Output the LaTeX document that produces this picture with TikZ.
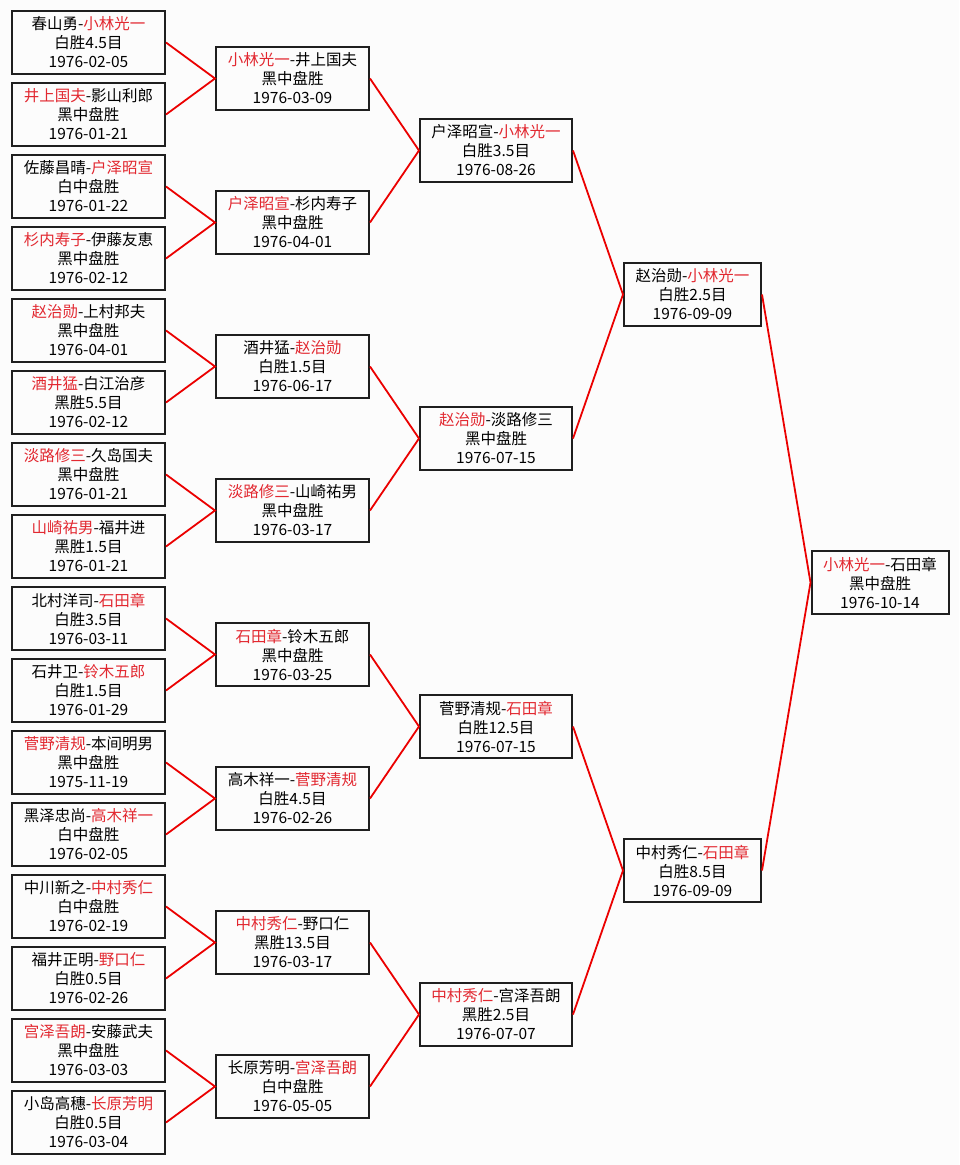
\documentclass[tikz,border=0pt]{standalone}
\usepackage{fontspec}
\setmainfont{Noto Sans CJK SC}
\definecolor{wred}{RGB}{226,40,48}
\definecolor{lred}{RGB}{235,0,0}
\definecolor{bgc}{RGB}{252,252,252}
\newcommand{\W}[1]{\textcolor{wred}{#1}}
\tikzset{
  game/.style={draw=black!88, line width=2pt, fill=bgc, minimum height=63pt, inner sep=0pt,
    align=center, font=\fontsize{15.5}{19}\selectfont},
  c1/.style={game, minimum width=153pt},
  c2/.style={game, minimum width=153pt},
  c3/.style={game, minimum width=152pt},
  c4/.style={game, minimum width=137pt},
  link/.style={draw=lred, line width=1.8pt}
}
\begin{document}
\begin{tikzpicture}[x=1pt,y=-1pt]
\fill[bgc] (0,0) rectangle (959,1165);
\useasboundingbox (0,0) rectangle (959,1165);
% column 1
\node[c1] (a1)  at (88.5,  42.5) {春山勇-\W{小林光一}\\白胜4.5目\\1976-02-05};
\node[c1] (a2)  at (88.5, 114.5) {\W{井上国夫}-影山利郎\\黑中盘胜\\1976-01-21};
\node[c1] (a3)  at (88.5, 186.5) {佐藤昌晴-\W{户泽昭宣}\\白中盘胜\\1976-01-22};
\node[c1] (a4)  at (88.5, 258.5) {\W{杉内寿子}-伊藤友恵\\黑中盘胜\\1976-02-12};
\node[c1] (a5)  at (88.5, 330.5) {\W{赵治勋}-上村邦夫\\黑中盘胜\\1976-04-01};
\node[c1] (a6)  at (88.5, 402.5) {\W{酒井猛}-白江治彦\\黑胜5.5目\\1976-02-12};
\node[c1] (a7)  at (88.5, 474.5) {\W{淡路修三}-久岛国夫\\黑中盘胜\\1976-01-21};
\node[c1] (a8)  at (88.5, 546.5) {\W{山崎祐男}-福井进\\黑胜1.5目\\1976-01-21};
\node[c1] (a9)  at (88.5, 618.5) {北村洋司-\W{石田章}\\白胜3.5目\\1976-03-11};
\node[c1] (a10) at (88.5, 690.5) {石井卫-\W{铃木五郎}\\白胜1.5目\\1976-01-29};
\node[c1] (a11) at (88.5, 762.5) {\W{菅野清规}-本间明男\\黑中盘胜\\1975-11-19};
\node[c1] (a12) at (88.5, 834.5) {黑泽忠尚-\W{高木祥一}\\白中盘胜\\1976-02-05};
\node[c1] (a13) at (88.5, 906.5) {中川新之-\W{中村秀仁}\\白中盘胜\\1976-02-19};
\node[c1] (a14) at (88.5, 978.5) {福井正明-\W{野口仁}\\白胜0.5目\\1976-02-26};
\node[c1] (a15) at (88.5,1050.5) {\W{宫泽吾朗}-安藤武夫\\黑中盘胜\\1976-03-03};
\node[c1] (a16) at (88.5,1122.5) {小岛高穗-\W{长原芳明}\\白胜0.5目\\1976-03-04};
% column 2
\node[c2] (b1) at (292.5,  78.5) {\W{小林光一}-井上国夫\\黑中盘胜\\1976-03-09};
\node[c2] (b2) at (292.5, 222.5) {\W{户泽昭宣}-杉内寿子\\黑中盘胜\\1976-04-01};
\node[c2] (b3) at (292.5, 366.5) {酒井猛-\W{赵治勋}\\白胜1.5目\\1976-06-17};
\node[c2] (b4) at (292.5, 510.5) {\W{淡路修三}-山崎祐男\\黑中盘胜\\1976-03-17};
\node[c2] (b5) at (292.5, 654.5) {\W{石田章}-铃木五郎\\黑中盘胜\\1976-03-25};
\node[c2] (b6) at (292.5, 798.5) {高木祥一-\W{菅野清规}\\白胜4.5目\\1976-02-26};
\node[c2] (b7) at (292.5, 942.5) {\W{中村秀仁}-野口仁\\黑胜13.5目\\1976-03-17};
\node[c2] (b8) at (292.5,1086.5) {长原芳明-\W{宫泽吾朗}\\白中盘胜\\1976-05-05};
% column 3
\node[c3] (c1) at (496, 150.5) {户泽昭宣-\W{小林光一}\\白胜3.5目\\1976-08-26};
\node[c3] (c2) at (496, 438.5) {\W{赵治勋}-淡路修三\\黑中盘胜\\1976-07-15};
\node[c3] (c3) at (496, 726.5) {菅野清规-\W{石田章}\\白胜12.5目\\1976-07-15};
\node[c3] (c4) at (496,1014.5) {\W{中村秀仁}-宫泽吾朗\\黑胜2.5目\\1976-07-07};
% column 4
\node[c4] (d1) at (692.5, 294.5) {赵治勋-\W{小林光一}\\白胜2.5目\\1976-09-09};
\node[c4] (d2) at (692.5, 870.5) {中村秀仁-\W{石田章}\\白胜8.5目\\1976-09-09};
% final
\node[c4] (e1) at (880, 582.5) {\W{小林光一}-石田章\\黑中盘胜\\1976-10-14};
% connectors
\foreach \p/\x/\y in {b1/a1/a2, b2/a3/a4, b3/a5/a6, b4/a7/a8, b5/a9/a10, b6/a11/a12, b7/a13/a14, b8/a15/a16,
                      c1/b1/b2, c2/b3/b4, c3/b5/b6, c4/b7/b8, d1/c1/c2, d2/c3/c4, e1/d1/d2}{
  \draw[link] (\x.east) -- (\p.west) -- (\y.east);
}
\end{tikzpicture}
\end{document}
